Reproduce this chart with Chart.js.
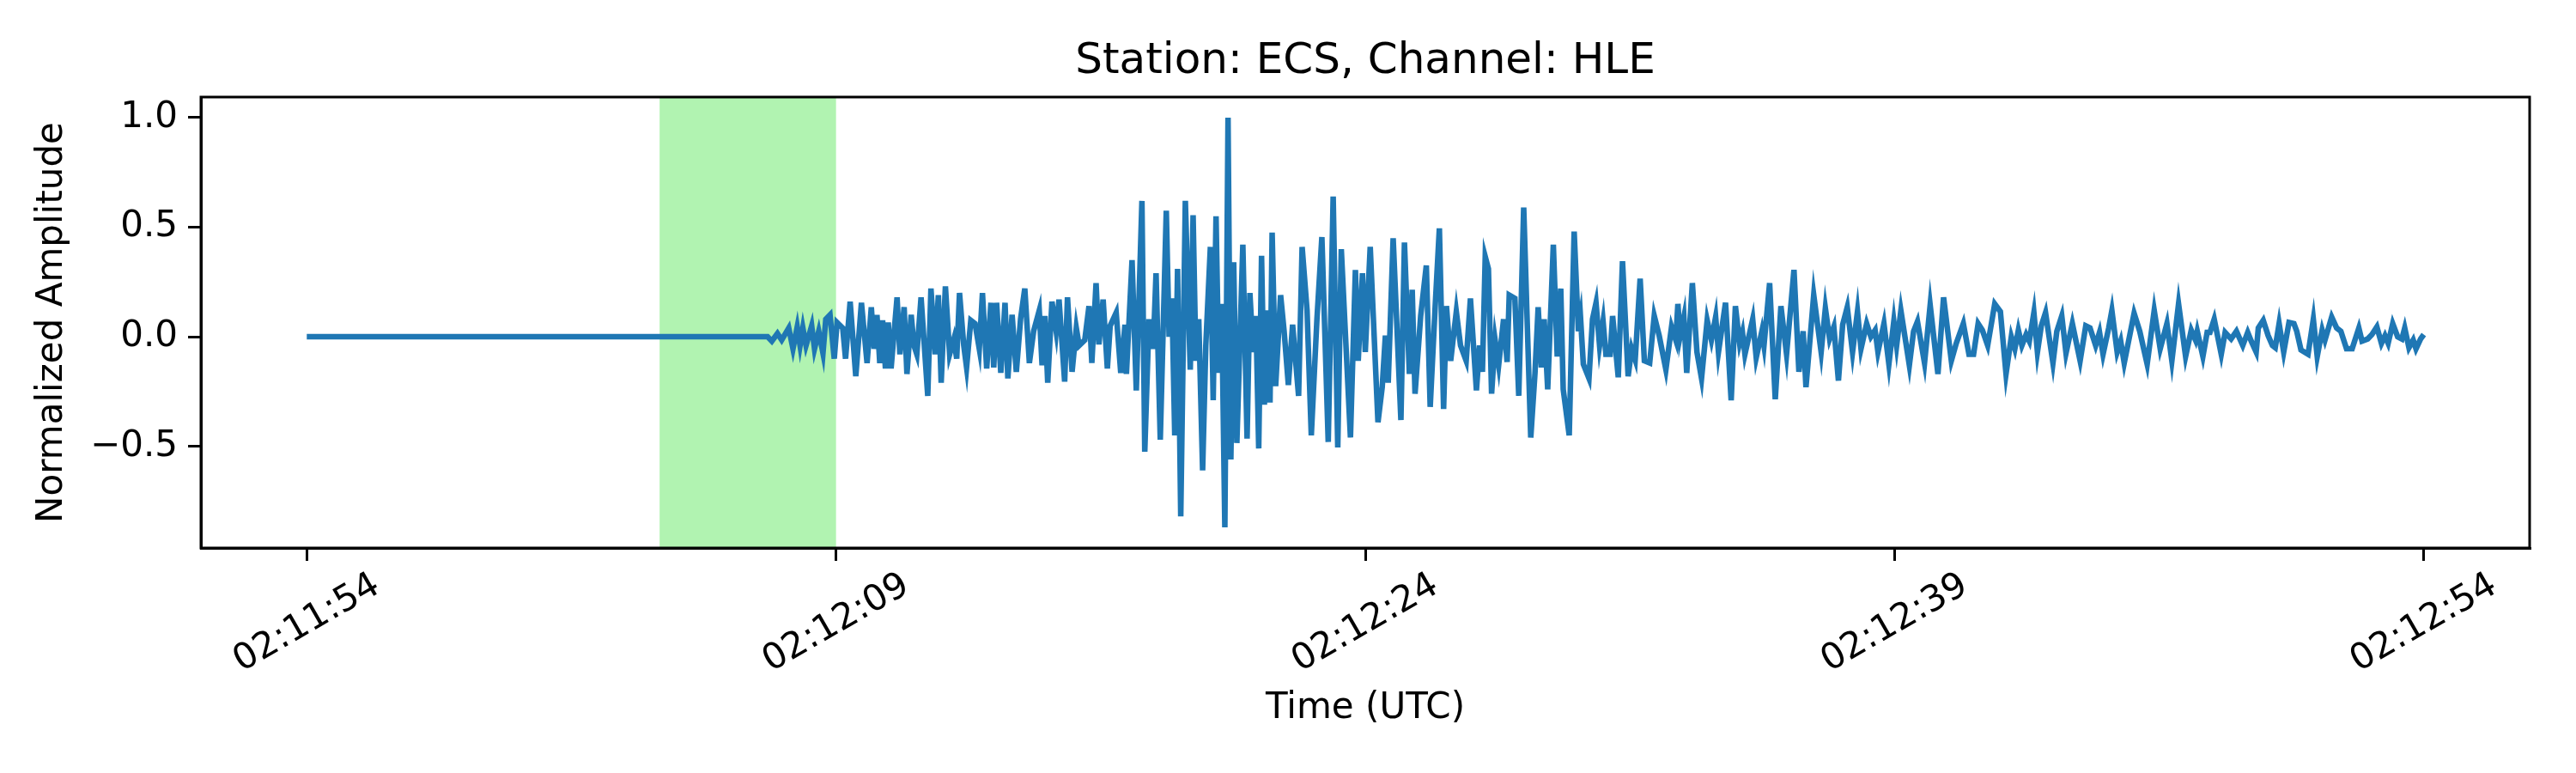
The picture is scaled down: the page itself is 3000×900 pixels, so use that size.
<!DOCTYPE html>
<html>
<head>
<meta charset="utf-8">
<script src="https://cdn.jsdelivr.net/npm/chart.js@4.4.1/dist/chart.umd.min.js"></script>
<style>
  html, body { margin: 0; padding: 0; background: #fff; }
  #wrap { width: 3000px; height: 900px; }
</style>
</head>
<body>
<div id="wrap"><canvas id="chart" width="3000" height="900"></canvas></div>
<script>
// Chart data (seconds after 02:11:54 UTC, normalized amplitude)
const titleText = 'Station: ECS, Channel: HLE';
const tickSeconds = [0, 15, 30, 45, 60];
const tickLabels = ['02:11:54', '02:12:09', '02:12:24', '02:12:39', '02:12:54'];
const pickWindow = [10, 15];   // highlighted window, seconds

// [time, amplitude] pairs
const samples = [
    [0, 0], [13.06, 0],
    // onset
    [13.18, -0.02], [13.34, 0.015], [13.46, -0.015], [13.66, 0.04], [13.78, -0.055], [13.90, 0.045], [13.98, -0.04],
    [14.06, 0.04], [14.15, -0.04], [14.31, 0.05], [14.39, -0.055], [14.51, 0.025], [14.63, -0.075], [14.71, 0.08],
    [14.83, 0.10], [14.95, -0.10], [15.03, 0.065], [15.19, 0.04], [15.27, -0.10], [15.40, 0.16], [15.56, -0.18],
    [15.72, 0.155], [15.88, -0.12], [16.00, 0.135], [16.08, -0.055], [16.16, 0.10], [16.24, -0.12], [16.32, 0.075],
    [16.40, -0.145], [16.48, 0.065], [16.56, -0.145], [16.73, 0.18], [16.81, -0.08], [16.93, 0.135], [17.01, -0.17],
    [17.13, 0.10], [17.21, -0.04], [17.29, -0.08], [17.41, 0.18], [17.60, -0.27], [17.69, 0.22], [17.81, -0.08],
    [17.90, 0.19], [17.98, -0.21], [18.10, 0.23], [18.22, -0.08], [18.34, -0.01], [18.42, -0.10], [18.50, 0.20],
    [18.62, -0.04], [18.70, -0.14], [18.82, 0.075], [18.94, 0.06], [19.06, -0.055], [19.15, 0.20], [19.27, -0.145],
    [19.39, 0.155], [19.47, -0.14], [19.55, 0.155], [19.67, -0.165], [19.79, 0.155], [19.87, -0.19], [19.99, 0.10],
    [20.11, -0.16], [20.23, 0.08], [20.35, 0.22], [20.48, -0.12], [20.60, 0.025], [20.76, 0.12], [20.84, -0.13],
    [20.92, 0.095], [21.00, -0.21], [21.12, 0.16], [21.24, 0.025], [21.32, 0.17], [21.48, -0.205], [21.56, 0.18],
    [21.69, -0.16], [21.81, 0.04], [21.89, -0.04], [22.05, -0.015], [22.17, 0.14], [22.25, -0.12], [22.37, 0.245],
    [22.45, -0.035], [22.57, 0.17], [22.69, -0.145], [22.77, 0.05],
    // strong motion
    [22.94, 0.11], [23.07, -0.165], [23.19, 0.055], [23.23, -0.17], [23.39, 0.35], [23.51, -0.245], [23.67, 0.62],
    [23.75, -0.525], [23.87, 0.08], [23.99, -0.055], [24.07, 0.29], [24.19, -0.47], [24.36, 0.575], [24.44, 0.0],
    [24.52, 0.175], [24.60, -0.45], [24.68, 0.31], [24.77, -0.82], [24.90, 0.62], [25.04, -0.15], [25.12, 0.555],
    [25.20, -0.11], [25.28, 0.08], [25.39, -0.61], [25.48, -0.04], [25.61, 0.41], [25.69, -0.29], [25.77, 0.55],
    [25.85, -0.165], [25.93, 0.15], [26.02, -0.87], [26.11, 1.0], [26.19, -0.56], [26.27, 0.34], [26.36, -0.485],
    [26.53, 0.42], [26.65, -0.465], [26.73, 0.2], [26.82, -0.07], [26.90, 0.095], [26.98, -0.51], [27.06, 0.37],
    [27.14, -0.31], [27.22, 0.12], [27.30, -0.30], [27.36, 0.475], [27.46, -0.225], [27.60, 0.19], [27.70, 0.025],
    [27.82, -0.22], [27.94, 0.055], [28.11, -0.27], [28.21, 0.41], [28.35, 0.12], [28.47, -0.45], [28.63, 0.08],
    [28.77, 0.455], [28.95, -0.48], [29.09, 0.64], [29.22, -0.505], [29.32, 0.40], [29.58, -0.46], [29.72, 0.305],
    [29.80, -0.11], [29.92, 0.29], [30.00, -0.07], [30.14, 0.41], [30.36, -0.39], [30.48, -0.23], [30.57, 0.005],
    [30.65, -0.21], [30.79, 0.45], [31.01, -0.38], [31.11, 0.43], [31.25, -0.17], [31.33, 0.215], [31.41, -0.26],
    [31.57, 0.095], [31.73, 0.325], [31.84, -0.32], [31.98, 0.135], [32.10, 0.495], [32.22, -0.33], [32.30, 0.14],
    [32.42, -0.11], [32.58, 0.115], [32.70, -0.04], [32.86, -0.11], [32.98, 0.175],
    // coda
    [33.15, -0.245], [33.24, -0.04], [33.32, -0.16], [33.40, 0.365], [33.49, 0.31], [33.58, -0.26], [33.68, -0.015],
    [33.78, -0.13], [33.92, 0.08], [34.02, -0.115], [34.08, 0.19], [34.24, 0.175], [34.35, -0.27], [34.49, 0.59],
    [34.69, -0.46], [34.81, -0.165], [34.90, 0.135], [34.99, -0.14], [35.07, 0.08], [35.17, -0.24], [35.33, 0.42],
    [35.44, -0.09], [35.54, 0.22], [35.61, -0.24], [35.78, -0.45], [35.92, 0.48], [36.04, 0.025], [36.10, 0.09],
    [36.18, -0.125], [36.34, -0.19], [36.44, 0.08], [36.54, 0.155], [36.64, -0.04], [36.74, 0.07], [36.82, -0.08],
    [36.94, -0.08], [37.01, 0.095], [37.17, -0.185], [37.29, 0.345], [37.45, -0.18], [37.55, -0.055], [37.65, -0.105],
    [37.79, 0.265], [37.91, -0.11], [38.06, -0.12], [38.19, 0.095], [38.33, 0.005], [38.52, -0.15], [38.68, 0.045],
    [38.80, -0.015], [38.86, 0.15], [38.92, 0.0], [39.03, 0.09], [39.11, -0.165], [39.27, 0.245], [39.40, -0.07],
    [39.53, -0.19], [39.69, 0.075], [39.81, -0.015], [39.93, 0.09], [40.01, -0.07], [40.21, 0.155], [40.37, -0.29],
    [40.49, 0.14], [40.61, -0.03], [40.69, 0.02], [40.76, -0.08], [40.98, 0.08], [41.08, -0.095], [41.24, 0.025],
    [41.30, -0.04], [41.46, 0.245], [41.62, -0.285], [41.78, 0.14], [41.94, -0.08], [42.15, 0.305], [42.29, -0.16],
    [42.41, 0.025], [42.49, -0.23], [42.71, 0.19],
    [42.92, -0.07], [43.04, 0.13], [43.16, -0.01], [43.28, 0.045], [43.41, -0.2], [43.53, 0.055], [43.66, 0.135],
    [43.81, -0.07], [43.95, 0.115], [44.05, -0.055], [44.21, 0.06], [44.33, 0.0], [44.45, 0.03], [44.53, -0.07],
    [44.70, 0.06], [44.84, -0.125], [44.98, 0.07], [45.06, -0.04], [45.18, 0.12], [45.42, -0.13], [45.54, 0.025],
    [45.65, 0.07], [45.85, -0.12], [46.01, 0.145], [46.23, -0.17], [46.39, 0.18], [46.61, -0.11], [46.75, -0.03],
    [46.95, 0.06], [47.11, -0.08], [47.24, -0.08], [47.37, 0.06], [47.49, 0.03], [47.64, -0.04], [47.84, 0.15],
    [48.00, 0.115], [48.16, -0.17], [48.31, 0.0], [48.41, -0.055], [48.51, 0.03], [48.61, -0.04], [48.73, 0.01],
    [48.82, -0.02], [48.95, 0.11], [49.05, -0.07], [49.16, 0.05], [49.28, 0.11], [49.49, -0.12], [49.60, 0.025],
    [49.74, 0.095], [49.86, -0.075], [50.04, 0.06], [50.26, -0.11], [50.42, 0.05], [50.54, 0.04], [50.70, -0.04],
    [50.81, 0.02], [50.91, -0.08], [51.07, 0.04], [51.16, 0.12], [51.31, -0.07], [51.41, -0.02], [51.51, -0.12],
    [51.79, 0.107], [51.95, 0.025], [52.16, -0.125], [52.36, 0.12], [52.53, -0.055], [52.72, 0.06], [52.86, -0.11],
    [53.05, 0.15], [53.25, -0.09], [53.41, 0.03], [53.53, -0.015], [53.58, 0.025], [53.74, -0.09], [53.86, 0.02],
    [53.94, 0.02], [54.06, 0.08], [54.26, -0.08], [54.37, 0.02], [54.54, -0.01], [54.69, 0.025], [54.87, -0.04],
    [55.01, 0.02], [55.11, -0.02], [55.25, -0.07], [55.31, 0.04], [55.45, 0.075], [55.59, 0.005], [55.71, -0.04],
    [55.79, -0.05], [55.90, 0.06], [56.03, -0.07], [56.18, 0.065], [56.32, 0.06], [56.40, 0.025], [56.52, -0.06],
    [56.72, -0.08], [56.87, 0.08], [56.98, -0.09], [57.12, 0.03], [57.20, -0.015], [57.39, 0.09], [57.53, 0.04],
    [57.65, 0.025], [57.81, -0.055], [57.97, -0.055], [58.16, 0.04], [58.25, -0.02], [58.41, -0.01], [58.53, 0.01],
    [58.67, 0.045], [58.80, -0.03], [58.90, 0.005], [58.99, -0.03], [59.12, 0.06], [59.26, 0.0], [59.38, -0.01],
    [59.46, 0.04], [59.58, -0.05], [59.70, -0.015], [59.78, -0.055], [59.91, -0.01], [60.0, 0.01]
];

const FONT = 'DejaVu Sans';

// green window under the trace, frame and title on top
const decorations = {
    id: 'decorations',
    beforeDatasetsDraw(chart) {
        const { ctx, chartArea: a, scales: { x } } = chart;
        const x0 = x.getPixelForValue(pickWindow[0]);
        const x1 = x.getPixelForValue(pickWindow[1]);
        ctx.save();
        ctx.fillStyle = 'rgb(177,243,177)';
        ctx.fillRect(x0, a.top, x1 - x0, a.bottom - a.top);
        ctx.restore();
    },
    afterDraw(chart) {
        const { ctx, chartArea: a } = chart;
        ctx.save();
        ctx.strokeStyle = '#000';
        ctx.lineWidth = 3;
        ctx.strokeRect(a.left, a.top, a.right - a.left, a.bottom - a.top);
        ctx.fillStyle = '#000';
        ctx.font = '50px "' + FONT + '"';
        ctx.textAlign = 'center';
        ctx.textBaseline = 'middle';
        ctx.fillText(titleText, (a.left + a.right) / 2, 72);
        ctx.restore();
    }
};

new Chart(document.getElementById('chart').getContext('2d'), {
    type: 'line',
    data: {
        datasets: [{
            data: samples.map(s => ({ x: s[0], y: s[1] })),
            borderColor: '#1f77b4', borderWidth: 6.5, pointRadius: 0, tension: 0, fill: false
        }]
    },
    options: {
        responsive: false, animation: false, devicePixelRatio: 1,
        layout: { padding: { top: 113, right: 54, left: 0, bottom: 46 } },
        plugins: { legend: { display: false }, tooltip: { enabled: false } },
        scales: {
            x: {
                type: 'linear', min: -3, max: 63,
                afterBuildTicks: s => { s.ticks = tickSeconds.map(v => ({ value: v })); },
                afterFit: s => { s.height = 216; },
                grid: { drawOnChartArea: false, tickLength: 15, color: '#000', lineWidth: 3 },
                border: { color: '#000', width: 3 },
                ticks: {
                    color: '#000', font: { family: FONT, size: 42 }, padding: 4,
                    maxRotation: 30, minRotation: 30, labelOffset: 82,
                    callback: v => tickLabels[tickSeconds.indexOf(v)] || ''
                },
                title: { display: true, text: 'Time (UTC)', color: '#000', font: { family: FONT, size: 42 }, padding: { top: 0 } }
            },
            y: {
                min: -0.964, max: 1.094,
                afterBuildTicks: s => { s.ticks = [-0.5, 0, 0.5, 1.0].map(v => ({ value: v })); },
                afterFit: s => { s.width = 234; },
                grid: { drawOnChartArea: false, tickLength: 15, color: '#000', lineWidth: 3 },
                border: { color: '#000', width: 3 },
                ticks: {
                    color: '#000', font: { family: FONT, size: 42 }, padding: 12,
                    callback: v => (v < 0 ? '\u2212' : '') + Math.abs(v).toFixed(1)
                },
                title: { display: true, text: 'Normalized Amplitude', color: '#000', font: { family: FONT, size: 42 }, padding: { top: 36, bottom: 0 } }
            }
        }
    },
    plugins: [decorations]
});
</script>
</body>
</html>
